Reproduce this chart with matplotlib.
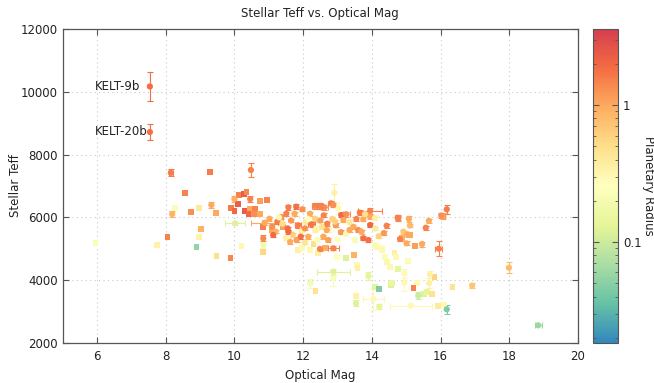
import numpy as np
import matplotlib
matplotlib.use("Agg")
import matplotlib.pyplot as plt
from matplotlib.colors import LogNorm, LinearSegmentedColormap

# ---------------- data ----------------
mag = [7.54, 7.54, 5.96, 7.74, 8.05, 8.15, 8.27, 8.19, 8.56, 8.74,
       8.97, 9.03, 8.97, 8.90, 9.30, 9.33, 9.47, 9.48, 9.89, 10.02,
       10.00, 10.10, 9.90, 10.00, 10.14, 10.27, 10.35, 10.48, 10.46, 10.31,
       10.45, 10.43, 10.61, 10.57, 10.74, 10.74, 10.94, 10.21, 10.84, 10.84,
       10.84, 10.84, 10.88, 11.02, 11.36, 11.51, 11.57, 11.80, 11.75, 11.98,
       12.35, 12.49, 12.62, 12.20, 12.60, 12.35, 12.07, 11.10, 11.25, 11.20,
       11.40, 11.55, 11.65, 11.70, 11.85, 11.95, 12.05, 12.15, 12.25, 12.40,
       12.50, 12.55, 12.70, 12.75, 12.85, 12.95, 11.13, 11.09, 11.42, 11.57,
       11.62, 11.81, 11.86, 11.96, 11.93, 12.15, 12.20, 12.44, 12.40, 12.49,
       12.59, 12.73, 12.35, 12.69, 12.21, 12.36, 12.88, 12.88, 12.91, 13.02,
       12.81, 12.88, 12.54, 13.95, 13.95, 13.75, 13.95, 14.09, 14.43, 14.77,
       15.08, 15.11, 13.11, 13.17, 13.46, 12.93, 13.25, 13.35, 13.55, 13.65,
       13.80, 13.60, 16.18, 16.08, 16.02, 15.66, 15.57, 14.75, 14.92, 15.04,
       14.82, 15.01, 15.26, 15.46, 15.95, 14.14, 14.29, 14.38, 14.44, 14.53,
       14.66, 14.71, 14.77, 14.95, 15.06, 14.95, 15.31, 15.21, 15.35, 15.52,
       15.61, 15.69, 15.82, 15.67, 15.76, 15.14, 15.92, 16.11, 16.18, 16.35,
       16.92, 17.99, 18.84, 13.54, 13.54, 13.90, 14.04, 14.09, 14.21, 14.22,
       13.56, 13.58, 14.55, 12.88, 12.64, 12.99, 13.25, 13.49, 14.09, 14.29,
       14.87, 15.11, 13.70, 13.51, 13.75, 13.90, 13.10, 13.25, 13.35, 14.58,
       14.20, 14.35, 14.10, 12.05, 11.50, 11.30, 12.30, 13.00]

teff = [10170, 8720, 5194, 5120, 5375, 7423, 6309, 6108, 6786, 6162,
        6290, 5640, 5366, 5047, 7455, 6394, 6150, 4780, 4716, 5812,
        6586, 6426, 6299, 6203, 6703, 6735, 6808, 7509, 6586, 6203,
        6257, 6098, 6257, 6098, 6512, 6098, 6563, 5089, 5334, 5120,
        4907, 5703, 5831, 5958, 6012, 6118, 6321, 6340, 6118, 6257,
        6363, 6363, 6321, 6118, 6065, 5958, 5850, 5700, 5860, 5550,
        5800, 5650, 5900, 5450, 5750, 5560, 5650, 5950, 5780, 5650,
        5900, 5700, 5800, 5600, 5950, 5750, 5439, 5598, 5703, 5544,
        5226, 5280, 4961, 5016, 5385, 5385, 4961, 4856, 5280, 4993,
        5385, 5280, 5598, 5598, 3900, 3665, 4270, 4060, 6786, 6290,
        6448, 6394, 6341, 6203, 6022, 5939, 5757, 5980, 5735, 5980,
        5948, 5740, 6076, 5917, 5703, 5863, 6100, 5850, 5950, 6150,
        6100, 5600, 6257, 6044, 6060, 5894, 5672, 5990, 5544, 5461,
        5312, 5174, 5089, 5152, 5003, 5066, 5016, 4748, 4588, 4430,
        4856, 4748, 4356, 4219, 4611, 3920, 3900, 3741, 3506, 3551,
        3634, 4187, 4111, 3910, 3560, 3188, 3178, 3210, 3073, 3794,
        3826, 4398, 2563, 3506, 3264, 4134, 3401, 3794, 3709, 3156,
        4483, 4378, 3846, 5016, 5016, 4748, 4697, 4802, 5120, 4961,
        5334, 5439, 5544, 5280, 5334, 5280, 5530, 5480, 5600, 3900,
        5400, 5500, 5650, 5200, 5350, 6000, 5150, 5300]

radius = [1.89, 1.83, 0.22, 0.33, 1.5, 1.6, 0.22, 0.9, 1.5, 1.3,
          0.42, 0.9, 0.33, 0.055, 1.6, 1.0, 1.0, 0.5, 1.4, 0.12,
          0.95, 2.2, 1.6, 2.0, 1.5, 2.3, 1.4, 1.5, 1.5, 2.3,
          1.0, 2.0, 1.5, 1.3, 1.1, 1.0, 1.5, 0.3, 1.4, 0.18,
          0.55, 1.5, 1.0, 1.0, 1.3, 1.5, 1.6, 1.8, 1.0, 1.3,
          1.5, 1.6, 1.3, 1.0, 1.5, 0.6, 0.4, 1.3, 1.6, 0.9,
          0.5, 1.8, 1.2, 0.6, 1.6, 0.35, 1.3, 0.25, 1.7, 0.3,
          1.1, 0.45, 1.5, 0.3, 0.6, 1.2, 1.9, 1.0, 1.1, 1.9,
          1.0, 1.1, 0.35, 0.3, 1.8, 1.0, 0.3, 0.35, 0.22, 1.5,
          1.0, 1.1, 0.35, 1.0, 0.2, 0.45, 0.12, 0.22, 0.35, 0.3,
          1.5, 1.3, 1.5, 1.5, 1.0, 1.0, 2.0, 0.35, 1.5, 1.4,
          1.0, 0.8, 2.0, 1.0, 1.0, 0.6, 1.3, 0.4, 1.5, 1.6,
          0.5, 1.3, 1.6, 1.1, 1.3, 1.0, 1.5, 1.5, 0.7, 1.0,
          1.5, 1.0, 1.1, 1.0, 1.5, 0.3, 0.25, 0.22, 0.2, 0.3,
          0.35, 0.3, 0.14, 0.3, 0.22, 0.3, 0.3, 1.5, 0.1, 0.12,
          0.13, 0.35, 0.6, 0.35, 0.45, 0.3, 0.4, 0.3, 0.045, 0.45,
          0.7, 0.8, 0.06, 0.35, 0.12, 0.13, 0.3, 0.13, 0.045, 0.13,
          0.3, 0.35, 0.12, 1.5, 1.0, 0.25, 0.12, 0.9, 0.22, 0.3,
          0.9, 1.0, 1.0, 0.22, 1.8, 1.8, 1.2, 0.3, 1.0, 0.15,
          0.6, 1.2, 0.4, 0.45, 0.35, 0.3, 0.5, 0.25]

mag_err = [0, 0, 0, 0, 0, 0.05, 0, 0, 0, 0,
           0, 0, 0, 0, 0, 0, 0, 0, 0, 0.3,
           0, 0, 0, 0, 0, 0, 0, 0, 0, 0,
           0, 0, 0, 0, 0, 0, 0, 0, 0, 0,
           0, 0, 0.4, 0, 0.05, 0, 0, 0, 0, 0,
           0.1, 0.1, 0.1, 0, 0, 0, 0, 0.05, 0, 0,
           0, 0, 0, 0, 0.1, 0, 0, 0, 0.1, 0,
           0, 0, 0, 0, 0, 0, 0, 0, 0, 0,
           0, 0, 0, 0, 0, 0, 0, 0, 0, 0,
           0, 0, 0, 0, 0, 0, 0.47, 0, 0, 0,
           0, 0, 0, 0.35, 0, 0, 0, 0, 0, 0,
           0, 0, 0, 0, 0, 0, 0.1, 0, 0, 0,
           0, 0, 0, 0.05, 0, 0, 0, 0, 0, 0,
           0, 0, 0, 0, 0.1, 0, 0, 0, 0, 0,
           0, 0, 0, 0, 0, 0, 0, 0, 0, 0,
           0, 0, 0, 0, 0, 0.6, 0, 0, 0, 0,
           0, 0, 0.1, 0, 0, 0, 0.3, 0, 0, 0,
           0, 0, 0, 0.15, 0, 0, 0, 0, 0, 0,
           0, 0, 0, 0, 0, 0, 0, 0, 0, 0,
           0, 0, 0, 0, 0, 0, 0, 0]

teff_err = [450, 250, 0, 0, 0, 120, 0, 80, 0, 0,
            0, 0, 0, 0, 0, 100, 0, 0, 0, 50,
            80, 0, 0, 0, 0, 0, 0, 220, 100, 0,
            0, 0, 0, 0, 0, 0, 0, 0, 100, 80,
            0, 0, 80, 60, 60, 60, 80, 80, 60, 60,
            80, 80, 80, 60, 60, 60, 60, 80, 60, 60,
            60, 60, 60, 60, 80, 60, 60, 60, 80, 60,
            60, 60, 60, 60, 60, 60, 60, 0, 0, 60,
            60, 60, 0, 0, 60, 60, 0, 0, 60, 60,
            60, 60, 60, 60, 150, 0, 100, 250, 290, 200,
            60, 60, 60, 100, 60, 60, 60, 60, 60, 100,
            100, 60, 60, 60, 60, 60, 80, 60, 60, 80,
            60, 60, 150, 100, 80, 60, 60, 60, 60, 80,
            60, 60, 0, 80, 230, 60, 0, 0, 0, 0,
            0, 0, 0, 150, 0, 250, 0, 0, 120, 0,
            0, 120, 0, 150, 0, 0, 0, 0, 150, 0,
            80, 180, 0, 80, 100, 120, 350, 0, 0, 80,
            0, 0, 0, 60, 0, 0, 0, 0, 0, 0,
            0, 0, 60, 60, 60, 60, 60, 60, 60, 0,
            60, 60, 60, 60, 60, 60, 0, 60]

labels = {"KELT-9b": (7.54, 10170), "KELT-20b": (7.54, 8720)}

x_ticks = [6, 8, 10, 12, 14, 16, 18, 20]
y_ticks = [2000, 4000, 6000, 8000, 10000, 12000]

# ---------------- style ----------------
plt.rcParams['font.family'] = ['DejaVu Sans']
cmap = LinearSegmentedColormap.from_list(
    "spec", ['#3288bd', '#66c2a5', '#abdda4', '#e6f598', '#ffffbf',
             '#fee08b', '#fdae61', '#f46d43', '#d53e4f'])
norm = LogNorm(vmin=0.0183, vmax=3.6)

fig = plt.figure(figsize=(6.54, 3.83), dpi=100)
ax = fig.add_axes([62.6/654, 1-343/383, (578-62.6)/654, (343-29)/383])
cax = fig.add_axes([593/654, 1-343/383, 25/654, (343-29)/383])

mag_a = np.array(mag); teff_a = np.array(teff); rad_a = np.array(radius)
me = np.array(mag_err); te = np.array(teff_err)
colors = cmap(norm(rad_a))

for i in range(len(mag_a)):
    if me[i] > 0 or te[i] > 0:
        ax.errorbar(mag_a[i], teff_a[i],
                    xerr=me[i] if me[i] > 0 else None,
                    yerr=te[i] if te[i] > 0 else None,
                    fmt='none', ecolor=colors[i], elinewidth=0.8,
                    capsize=2.2, capthick=0.8, zorder=2)

has_err = (me > 0) | (te > 0)
ax.scatter(mag_a[~has_err], teff_a[~has_err], c=colors[~has_err], marker='s',
           s=17, linewidths=0, zorder=3)
ax.scatter(mag_a[has_err], teff_a[has_err], c=colors[has_err], marker='o',
           s=20, linewidths=0, zorder=3)

for name, (xv, yv) in labels.items():
    ax.text(xv - 1.6, yv, name, ha='left', va='center', fontsize=8.5, color='#222222')

ax.set_xlim(5, 20)
ax.set_ylim(2000, 12000)
ax.set_xticks(x_ticks)
ax.set_yticks(y_ticks)
ax.grid(True, color='#c8c8c8', linestyle=(0, (1, 3)), linewidth=0.8)
ax.tick_params(direction='in', top=True, right=True, length=4, width=0.8,
               labelsize=8.5, colors='#555555', labelcolor='#222222')
ax.tick_params(axis='x', pad=5)
for sp in ax.spines.values():
    sp.set_color('#555555'); sp.set_linewidth(0.9)
ax.set_xlabel('Optical Mag', fontsize=8.5, color='#222222', labelpad=4)
ax.set_ylabel('Stellar Teff', fontsize=8.5, color='#222222', labelpad=-1)
ax.set_title('Stellar Teff vs. Optical Mag', fontsize=8.5, color='#222222', pad=9)

sm = plt.cm.ScalarMappable(norm=norm, cmap=cmap)
cb = fig.colorbar(sm, cax=cax)
cb.set_ticks([0.1, 1])
cb.set_ticklabels(['0.1', '1'])
cax.tick_params(which='both', direction='in', left=True, right=True, colors='#555555',
                labelcolor='#222222', labelsize=8.5)
cax.tick_params(which='major', length=4)
cax.tick_params(which='minor', length=2)
cb.outline.set_edgecolor('#555555')
fig.text(649/654, 1-186/383, 'Planetary Radius', rotation=270, ha='center',
         va='center', fontsize=8.5, color='#222222')

fig.savefig('out.png', dpi=100)
